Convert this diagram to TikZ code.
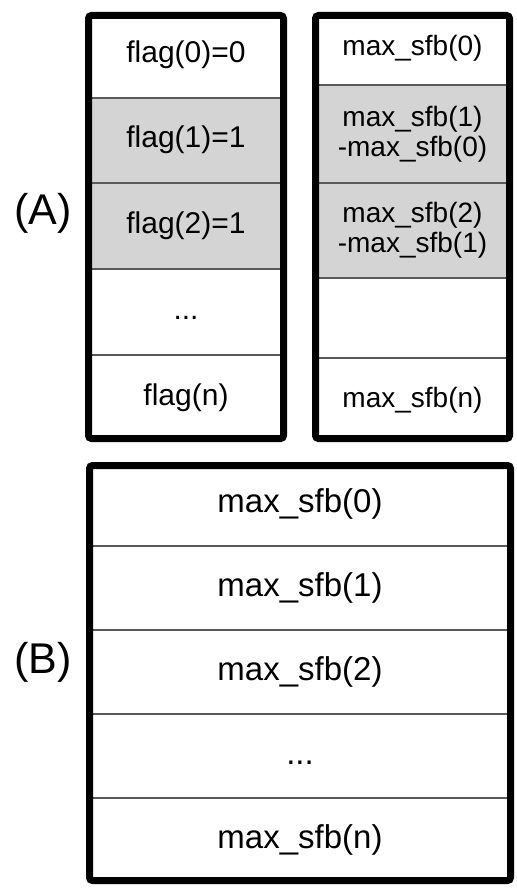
\documentclass[tikz,border=0pt]{standalone}
\usepackage{fontspec}
\setmainfont{Liberation Sans}
\begin{document}
\begin{tikzpicture}[x=0.5pt,y=-0.5pt,
  frame/.style={line width=3.5pt, rounded corners=1.5pt},
  divider/.style={line width=0.6pt, draw=black!65},
  shadecell/.style={fill=black!17},
  ta/.style={font=\fontsize{15}{16}\selectfont, inner sep=0pt},
  tr/.style={font=\fontsize{14}{15}\selectfont, align=center, inner sep=0pt},
  tb/.style={font=\fontsize{16.5}{18}\selectfont, inner sep=0pt},
  lab/.style={font=\fontsize{21.5}{24}\selectfont, inner sep=0pt}]
\useasboundingbox (0,0) rectangle (516,888);
% shaded cells
\fill[shadecell] (88,98) rectangle (284,269);
\fill[shadecell] (315,85) rectangle (510,278);
% dividers
\foreach \y in {98,183,269,355} \draw[divider] (88,\y) -- (284,\y);
\foreach \y in {85,183,278,358} \draw[divider] (315,\y) -- (510,\y);
\foreach \y in {546,630,714,798} \draw[divider] (89,\y) -- (511,\y);
% frames
\draw[frame] (88.5,15.5) rectangle (283.5,438.5);
\draw[frame] (315.5,15.5) rectangle (509.5,438.5);
\draw[frame] (89.5,465.5) rectangle (510.5,880.5);
% labels
\node[lab] (labA) at (43,213) {(A)};
\node[lab] (labB) at (43,662) {(B)};
% left A texts
\node[ta] (f0) at (186,55) {flag(0)=0};
\node[ta] (f1) at (186,140) {flag(1)=1};
\node[ta] (f2) at (186,226) {flag(2)=1};
\node[ta] (fd) at (186,312) {\vphantom{(}...};
\node[ta] (fn) at (186,398) {flag(n)};
% right A texts
\node[tr] (m0) at (412.5,48) {max\_sfb(0)};
\node[tr] (m1) at (412.5,134) {max\_sfb(1)\\-max\_sfb(0)};
\node[tr] (m2) at (412.5,230) {max\_sfb(2)\\-max\_sfb(1)};
\node[tr] (mn) at (412.5,400) {max\_sfb(n)};
% B texts
\node[tb] (b0) at (300,504) {max\_sfb(0)};
\node[tb] (b1) at (300,588) {max\_sfb(1)};
\node[tb] (b2) at (300,672) {max\_sfb(2)};
\node[tb] (bd) at (300,756) {\vphantom{(}...};
\node[tb] (bn) at (300,840) {max\_sfb(n)};
\end{tikzpicture}
\end{document}
